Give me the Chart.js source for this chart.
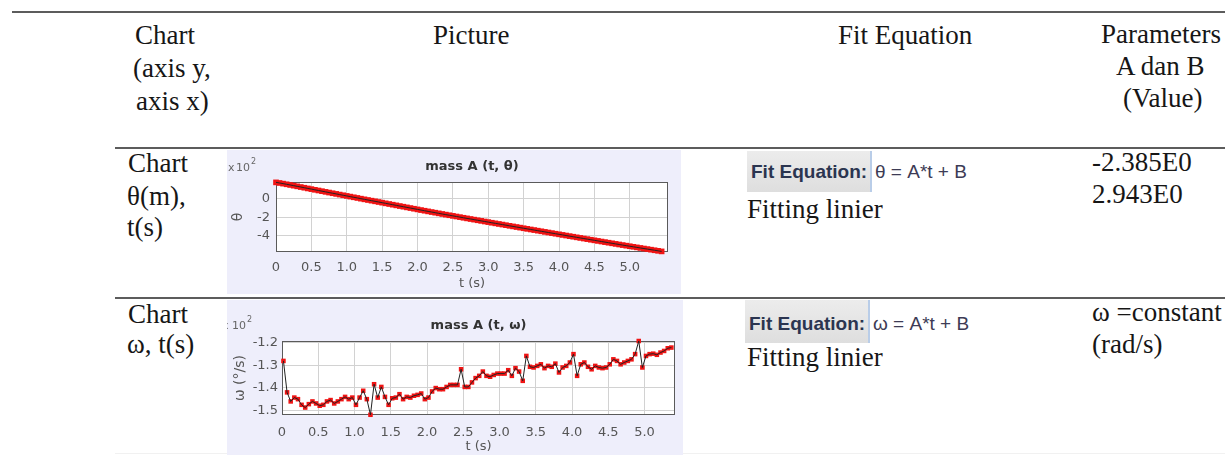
<!DOCTYPE html>
<html>
<head>
<meta charset="utf-8">
<script src="https://cdn.jsdelivr.net/npm/chart.js@4.4.1/dist/chart.umd.min.js"></script>
<style>
  html, body { margin:0; padding:0; background:#fff; }
  body { width:1225px; height:474px; position:relative; overflow:hidden; }
  .s { position:absolute; font-family:"Liberation Serif","Times New Roman",serif; font-size:27px; line-height:27px; color:#161616; white-space:nowrap; }
  .ln { position:absolute; background:#5c5c5c; }
  .pic { position:absolute; background:#eeeefb; }
  .fitbox { position:absolute; background:linear-gradient(#ececec,#dedede); border-right:2px solid #b9cde8; }
  .fe { position:absolute; font-family:"Liberation Sans",Arial,sans-serif; font-size:19px; line-height:19px; white-space:nowrap; }
  .feb { font-weight:bold; color:#2b3550; }
  .fev { color:#3d3b55; }
  canvas { position:absolute; }
</style>
</head>
<body>
<!-- table rules -->
<div class="ln" style="left:12px;top:11px;width:1213px;height:2px;"></div>
<div class="ln" style="left:115px;top:147px;width:1110px;height:2px;"></div>
<div class="ln" style="left:115px;top:297px;width:1110px;height:2px;"></div>
<div class="ln" style="left:115px;top:453px;width:1110px;height:1px;background:#f1f1f1;"></div>

<!-- header -->
<div class="s" style="left:135px;top:22px;">Chart</div>
<div class="s" style="left:133px;top:55px;">(axis y,</div>
<div class="s" style="left:136px;top:88px;">axis x)</div>
<div class="s" style="left:433px;top:22px;">Picture</div>
<div class="s" style="left:838px;top:22px;">Fit Equation</div>
<div class="s" style="left:1101px;top:21px;">Parameters</div>
<div class="s" style="left:1116px;top:53px;">A dan B</div>
<div class="s" style="left:1123px;top:85px;">(Value)</div>

<!-- row 1 -->
<div class="s" style="left:128px;top:150px;">Chart</div>
<div class="s" style="left:127px;top:183px;">θ(m),</div>
<div class="s" style="left:127px;top:214px;">t(s)</div>
<div class="pic" style="left:227px;top:150px;width:454px;height:144px;"></div>
<canvas id="c1" width="454" height="144" style="left:227px;top:150px;width:454px;height:144px;"></canvas>
<div class="fitbox" style="left:747px;top:151px;width:123px;height:41px;"></div>
<div class="fe feb" style="left:751px;top:162px;">Fit Equation:</div>
<div class="fe fev" style="left:875px;top:162px;">θ = A*t + B</div>
<div class="s" style="left:747px;top:196px;">Fitting linier</div>
<div class="s" style="left:1092px;top:149px;">-2.385E0</div>
<div class="s" style="left:1092px;top:181px;">2.943E0</div>

<!-- row 2 -->
<div class="s" style="left:128px;top:301px;">Chart</div>
<div class="s" style="left:127px;top:331px;">ω, t(s)</div>
<div class="pic" style="left:227px;top:300px;width:456px;height:155px;"></div>
<canvas id="c2" width="456" height="155" style="left:227px;top:300px;width:456px;height:155px;"></canvas>
<div class="fitbox" style="left:745px;top:300px;width:123px;height:43px;"></div>
<div class="fe feb" style="left:749px;top:314px;">Fit Equation:</div>
<div class="fe fev" style="left:873px;top:314px;">ω = A*t + B</div>
<div class="s" style="left:747px;top:344px;">Fitting linier</div>
<div class="s" style="left:1092px;top:299px;">ω =constant</div>
<div class="s" style="left:1092px;top:331px;">(rad/s)</div>

<script>
// ---------- data ----------
const tTheta = [0,0.05,0.1,0.15,0.2,0.25,0.3,0.35,0.4,0.45,0.5,0.55,0.6,0.65,0.7,0.75,0.8,0.85,0.9,0.95,
  1,1.05,1.1,1.15,1.2,1.25,1.3,1.35,1.4,1.45,1.5,1.55,1.6,1.65,1.7,1.75,1.8,1.85,1.9,1.95,
  2,2.05,2.1,2.15,2.2,2.25,2.3,2.35,2.4,2.45,2.5,2.55,2.6,2.65,2.7,2.75,2.8,2.85,2.9,2.95,
  3,3.05,3.1,3.15,3.2,3.25,3.3,3.35,3.4,3.45,3.5,3.55,3.6,3.65,3.7,3.75,3.8,3.85,3.9,3.95,
  4,4.05,4.1,4.15,4.2,4.25,4.3,4.35,4.4,4.45,4.5,4.55,4.6,4.65,4.7,4.75,4.8,4.85,4.9,4.95,
  5,5.05,5.1,5.15,5.2,5.25,5.3,5.35,5.4,5.45];
const thetaValues = [1.76,1.695,1.625,1.553,1.48,1.406,1.331,1.256,1.182,1.107,1.032,0.958,0.884,0.81,0.736,0.662,0.589,0.516,0.443,0.37,
  0.297,0.224,0.151,0.078,0.003,-0.07,-0.141,-0.213,-0.284,-0.357,-0.43,-0.502,-0.575,-0.648,-0.72,-0.793,-0.865,-0.938,-1.01,-1.083,
  -1.155,-1.227,-1.298,-1.369,-1.44,-1.51,-1.58,-1.65,-1.719,-1.786,-1.853,-1.922,-1.99,-2.058,-2.125,-2.192,-2.259,-2.326,-2.393,-2.46,
  -2.527,-2.594,-2.66,-2.726,-2.792,-2.858,-2.925,-2.991,-3.057,-3.122,-3.188,-3.254,-3.32,-3.385,-3.45,-3.516,-3.582,-3.648,-3.713,-3.778,
  -3.843,-3.908,-3.973,-4.038,-4.103,-4.168,-4.233,-4.298,-4.362,-4.427,-4.491,-4.555,-4.62,-4.684,-4.748,-4.812,-4.876,-4.94,-5.003,-5.066,
  -5.128,-5.19,-5.252,-5.314,-5.376,-5.438,-5.5,-5.562,-5.623,-5.685];

const tOmega = [0.02,0.07,0.12,0.17,0.22,0.27,0.32,0.37,0.42,0.47,0.52,0.57,0.62,0.67,0.72,0.77,0.82,0.87,0.92,0.97,
  1.02,1.07,1.12,1.17,1.22,1.27,1.32,1.37,1.42,1.47,1.52,1.57,1.62,1.67,1.72,1.77,1.82,1.87,1.92,1.97,
  2.02,2.07,2.12,2.17,2.22,2.27,2.32,2.37,2.42,2.47,2.52,2.57,2.62,2.67,2.72,2.77,2.82,2.87,2.92,2.97,
  3.02,3.07,3.12,3.17,3.22,3.27,3.32,3.37,3.42,3.47,3.52,3.57,3.62,3.67,3.72,3.77,3.82,3.87,3.92,3.97,
  4.02,4.07,4.12,4.17,4.22,4.27,4.32,4.37,4.42,4.47,4.52,4.57,4.62,4.67,4.72,4.77,4.82,4.87,4.92,4.97,
  5.02,5.07,5.12,5.17,5.22,5.27,5.32,5.37];
const omegaValues = [-1.281,-1.42,-1.46,-1.443,-1.45,-1.475,-1.487,-1.472,-1.46,-1.469,-1.479,-1.475,-1.46,-1.454,-1.469,-1.46,-1.45,-1.44,-1.45,-1.443,
  -1.475,-1.443,-1.413,-1.45,-1.519,-1.384,-1.443,-1.396,-1.44,-1.475,-1.446,-1.443,-1.428,-1.45,-1.44,-1.443,-1.435,-1.431,-1.425,-1.45,
  -1.443,-1.416,-1.401,-1.406,-1.406,-1.396,-1.387,-1.387,-1.387,-1.318,-1.396,-1.396,-1.376,-1.357,-1.347,-1.328,-1.347,-1.351,-1.343,-1.337,
  -1.337,-1.337,-1.322,-1.347,-1.313,-1.328,-1.369,-1.259,-1.307,-1.31,-1.303,-1.296,-1.313,-1.303,-1.307,-1.293,-1.332,-1.31,-1.303,-1.288,
  -1.251,-1.347,-1.296,-1.288,-1.307,-1.318,-1.303,-1.31,-1.313,-1.31,-1.296,-1.274,-1.281,-1.296,-1.288,-1.281,-1.274,-1.251,-1.193,-1.31,
  -1.259,-1.251,-1.249,-1.254,-1.244,-1.237,-1.225,-1.222];

const xTickValues = [0,0.5,1,1.5,2,2.5,3,3.5,4,4.5,5];
const xTickLabels = ['0','0.5','1.0','1.5','2.0','2.5','3.0','3.5','4.0','4.5','5.0'];
const thetaTickValues = [0,-2,-4];
const thetaTickLabels = ['0','-2','-4'];
const omegaTickValues = [-1.2,-1.3,-1.4,-1.5];
const omegaTickLabels = ['-1.2','-1.3','-1.4','-1.5'];

// ---------- drawing ----------
const TICK_FONT = {family:'"DejaVu Sans", sans-serif', size:13};
const framePlugin = {
  id:'frame',
  beforeDraw(chart){
    const {ctx, chartArea:a} = chart;
    ctx.save(); ctx.fillStyle = '#ffffff';
    ctx.fillRect(a.left, a.top, a.right - a.left, a.bottom - a.top);
    ctx.restore();
  },
  beforeDatasetsDraw(chart){
    const {ctx, chartArea:a} = chart;
    ctx.save(); ctx.strokeStyle = '#5a5a5a'; ctx.lineWidth = 1;
    ctx.strokeRect(Math.round(a.left)+0.5, Math.round(a.top)+0.5, Math.round(a.right-a.left)-1, Math.round(a.bottom-a.top)-1);
    ctx.restore();
  },
  afterDraw(chart, args, o){
    const {ctx, chartArea:a} = chart;
    ctx.save();
    ctx.fillStyle = '#333'; ctx.font = 'bold 13px "DejaVu Sans", sans-serif';
    ctx.textAlign = 'center'; ctx.textBaseline = 'middle';
    ctx.fillText(o.title, (a.left + a.right)/2, o.titleY);
    ctx.fillStyle = '#666'; ctx.textAlign = 'left'; ctx.textBaseline = 'alphabetic';
    ctx.font = '11px "DejaVu Sans", sans-serif';
    ctx.fillText('x', o.xX, o.expBase);
    ctx.fillText('10', o.tenX, o.expBase);
    ctx.font = '8px "DejaVu Sans", sans-serif';
    ctx.fillText('2', o.tenX + 15, o.expBase - 7);
    ctx.restore();
  }
};

function makeChart(id, ts, vals, cfg){
  const pts = ts.map((t,i)=>({x:t, y:vals[i]}));
  return new Chart(document.getElementById(id), {
    type:'line',
    data:{datasets:[
      {data:pts, borderColor:'#222', borderWidth:1, pointRadius:0, order:0, clip:5, tension:0},
      {data:pts, showLine:false, pointStyle:'rect', pointRadius:cfg.r, pointBackgroundColor:'#f01414', pointBorderWidth:0, order:1, clip:5}
    ]},
    options:{
      responsive:false, animation:false, devicePixelRatio:1, events:[],
      layout:{padding:{top:cfg.padTop, right:cfg.padRight, left:0, bottom:0}},
      plugins:{legend:{display:false}, tooltip:{enabled:false},
        frame:{title:cfg.title, titleY:cfg.titleY, xX:cfg.xX, tenX:cfg.tenX, expBase:cfg.expBase}},
      scales:{
        x:{type:'linear', min:0, max:cfg.xMax,
          afterBuildTicks:s=>{ s.ticks = xTickValues.map(v=>({value:v})); },
          afterFit:s=>{ s.height = cfg.xH; },
          ticks:{callback:(v,i)=>xTickLabels[i], autoSkip:false, maxRotation:0, color:'#555', font:TICK_FONT, padding:cfg.xPad},
          grid:{color:'#d2d2d2', drawTicks:false}, border:{display:false},
          title:{display:true, text:'t (s)', color:'#555', font:TICK_FONT, padding:{top:0,bottom:cfg.xTitlePad}}
        },
        y:{type:'linear', min:cfg.yMin, max:cfg.yMax,
          afterBuildTicks:s=>{ s.ticks = cfg.yTicks.map(v=>({value:v})); },
          afterFit:s=>{ s.width = cfg.yW; },
          ticks:{callback:(v,i)=>cfg.yLabels[i], color:'#555', font:TICK_FONT, padding:cfg.yPad},
          grid:{color:'#d2d2d2', drawTicks:false}, border:{display:false},
          title:{display:true, text:cfg.yTitle, color:'#555', font:{family:'"DejaVu Sans", sans-serif', size:14}, padding:{top:cfg.yTitlePad,bottom:0}}
        }
      }
    },
    plugins:[framePlugin]
  });
}

makeChart('c1', tTheta, thetaValues, {
  r:4, title:'mass A (t, θ)', titleY:17, xX:1, tenX:9, expBase:21,
  padTop:32, padRight:13, xH:42, yW:49, xMax:5.54, yMin:-5.75, yMax:1.8,
  yTicks:thetaTickValues, yLabels:thetaTickLabels, yTitle:'θ',
  xPad:8, yPad:6, xTitlePad:3, yTitlePad:3
});
makeChart('c2', tOmega, omegaValues, {
  r:3.2, title:'mass A (t, ω)', titleY:26, xX:-5, tenX:5, expBase:29,
  padTop:41, padRight:8, xH:40, yW:55, xMax:5.42, yMin:-1.52, yMax:-1.193,
  yTicks:omegaTickValues, yLabels:omegaTickLabels, yTitle:'ω (°/s)',
  xPad:10, yPad:4, xTitlePad:1, yTitlePad:5
});
</script>
</body>
</html>
